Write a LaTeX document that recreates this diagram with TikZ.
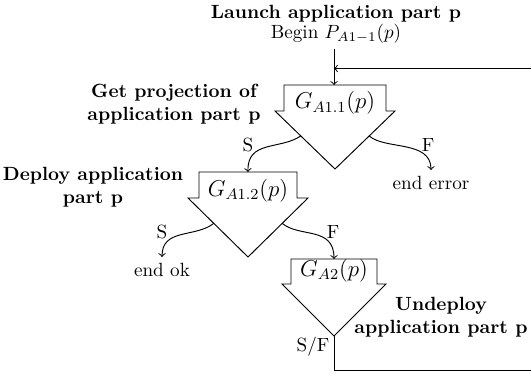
\documentclass[tikz,border=0pt]{standalone}
\usetikzlibrary{calc}

\tikzset{
  gateline/.style={draw, line width=0.5pt, line join=miter},
  flow/.style={->, line width=0.5pt},
  title/.style={font=\bfseries, align=center, inner sep=0pt},
  plain/.style={inner sep=0pt},
  endtext/.style={inner sep=3pt},
  gatelabel/.style={font=\large, inner sep=0pt}
}

% \gatebox{name}{cx}{top}{stem half-width}{wing half-width}{wing y}{apex y}{label}{label y}
\newcommand{\gatebox}[9]{%
  \draw[gateline] (#2-#4,#6) -- (#2-#4,#3) -- (#2+#4,#3) -- (#2+#4,#6)
    -- (#2+#5,#6) -- (#2,#7) -- (#2-#5,#6) -- cycle;
  \coordinate (#1-top) at (#2,#3);
  \coordinate (#1-apex) at (#2,#7);
  \coordinate (#1-wl) at (#2-#5,#6);
  \coordinate (#1-wr) at (#2+#5,#6);
  \coordinate (#1-l) at ($(#1-wl)!0.43!(#1-apex)$);
  \coordinate (#1-r) at ($(#1-wr)!0.43!(#1-apex)$);
  \node[gatelabel] (#1-lab) at (#2,#9) {#8};
}

\begin{document}
\begin{tikzpicture}[x=0.523pt, y=-0.523pt]
\useasboundingbox (0,0) rectangle (531,374);

% headings
\node[title] (launch) at (336,14) {Launch application part p};
\node[plain] (begin) at (336,34) {Begin $P_{A1-1}(p)$};
\node[title] (getproj) at (174,104) {Get projection of\\application part p};
\node[title] (deploy) at (93,187) {Deploy application\\part p};
\node[title] (undeploy) at (441,317) {Undeploy\\application part p};

% gates
\gatebox{g1}{335}{85}{51}{60}{111}{169}{$G_{A1.1}(p)$}{103}
\gatebox{g2}{248}{172}{49}{60}{198}{257}{$G_{A1.2}(p)$}{190.5}
\gatebox{g3}{334}{259}{43}{52}{284}{336}{$G_{A2}(p)$}{270.5}

% outcomes
\node[endtext, anchor=north] (enderr) at (431,170) {end error};
\node[endtext, anchor=north] (endok) at (162,257) {end ok};

% branch labels
\node[plain] (s1) at (248,145) {S};
\node[plain] (f1) at (428,145) {F};
\node[plain] (s2) at (162,232) {S};
\node[plain] (f2) at (333,232) {F};
\node[plain] (sf) at (313,347) {S/F};

% connectors
\coordinate (entry) at (334,49);
\coordinate (g1in) at (334,85);
\draw[flow] (entry) -- (g1in);
\draw[flow] (g1-l) .. controls (280,150) and (247,140) .. (g2-top);
\draw[flow] (g1-r) .. controls (385,150) and (431,140) .. (enderr.north);
\draw[flow] (g2-l) .. controls (195,238) and (162,228) .. (endok.north);
\draw[flow] (g2-r) .. controls (300,238) and (334,226) .. (g3-top);

% loop back to the first gate
\coordinate (lb) at (334,370);
\coordinate (rb) at (533,370);
\coordinate (rt) at (533,68.5);
\coordinate (back) at (334,68.5);
\draw[flow] (g3-apex) -- (lb) -- (rb) -- (rt) -- (back);
\end{tikzpicture}
\end{document}
